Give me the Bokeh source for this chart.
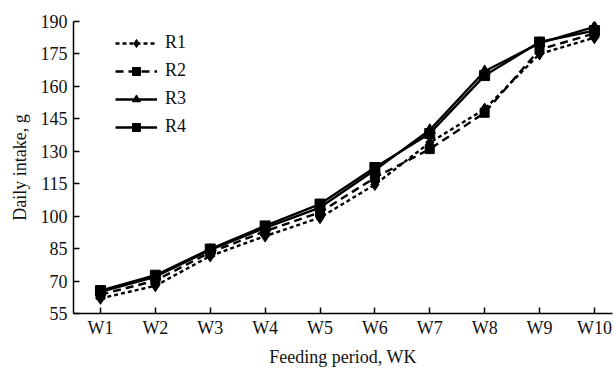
from bokeh.plotting import figure
from bokeh.models import Range1d, Legend, LegendItem, FixedTicker
from bokeh.embed import file_html
from bokeh.resources import INLINE

weeks = ["W1", "W2", "W3", "W4", "W5", "W6", "W7", "W8", "W9", "W10"]
x_pos = [1, 2, 3, 4, 5, 6, 7, 8, 9, 10]
r1 = [62.0, 67.8, 81.6, 90.8, 99.3, 114.6, 134.0, 149.5, 175.0, 182.5]
r2 = [63.7, 70.2, 83.3, 93.0, 101.8, 117.8, 131.0, 147.8, 177.0, 184.5]
r3 = [65.0, 72.0, 84.4, 94.6, 104.0, 121.3, 139.8, 167.0, 180.0, 187.5]
r4 = [65.6, 72.7, 84.8, 95.5, 105.6, 122.5, 138.2, 165.0, 180.5, 185.8]
y_ticks = [55, 70, 85, 100, 115, 130, 145, 160, 175, 190]

FONT = "Liberation Serif"

p = figure(width=614, height=369, output_backend="svg", toolbar_location=None,
           x_range=Range1d(0.508, 10.33), y_range=Range1d(55, 190),
           min_border_left=73, min_border_top=21, min_border_right=2,
           min_border_bottom=54)
p.outline_line_color = None
p.grid.visible = False
p.background_fill_color = "white"
p.border_fill_color = "white"

for ax in (p.xaxis[0], p.yaxis[0]):
    ax.axis_line_width = 1.5
    ax.axis_line_color = "black"
    ax.major_tick_line_width = 1.5
    ax.major_tick_in = 6
    ax.major_tick_out = 0
    ax.minor_tick_line_color = None
    ax.major_label_text_font = FONT
    ax.major_label_text_font_size = "18px"
    ax.major_label_text_color = "#111111"
    ax.axis_label_text_font = FONT
    ax.axis_label_text_font_size = "18px"
    ax.axis_label_text_font_style = "normal"
    ax.axis_label_text_color = "#111111"

p.xaxis.ticker = FixedTicker(ticks=x_pos)
p.xaxis.major_label_overrides = {x: w for x, w in zip(x_pos, weeks)}
p.xaxis.axis_label = "Feeding period, WK"
p.xaxis.major_label_standoff = 4
p.xaxis.axis_label_standoff = 6

p.yaxis.ticker = FixedTicker(ticks=y_ticks)
p.yaxis.axis_label = "Daily intake, g"
p.yaxis.major_label_standoff = 6
p.yaxis.axis_label_standoff = 8

lw = 2.4
l1 = p.line(x_pos, r1, line_color="black", line_width=lw, line_dash="4 3")
m1 = p.scatter(x_pos, r1, marker="diamond", size=12, color="black")
l2 = p.line(x_pos, r2, line_color="black", line_width=lw, line_dash="8 5")
m2 = p.scatter(x_pos, r2, marker="square", size=9, color="black")
l3 = p.line(x_pos, r3, line_color="black", line_width=lw)
m3 = p.scatter(x_pos, r3, marker="triangle", size=11, color="black")
l4 = p.line(x_pos, r4, line_color="black", line_width=lw)
m4 = p.scatter(x_pos, r4, marker="square", size=10, color="black")

legend = Legend(items=[
    LegendItem(label="R1", renderers=[l1, m1]),
    LegendItem(label="R2", renderers=[l2, m2]),
    LegendItem(label="R3", renderers=[l3, m3]),
    LegendItem(label="R4", renderers=[l4, m4]),
], location=(42, 176))
legend.glyph_width = 42
legend.glyph_height = 20
legend.label_height = 20
legend.spacing = 7
legend.padding = 0
legend.margin = 0
legend.label_standoff = 8
legend.border_line_color = None
legend.background_fill_alpha = 0
legend.label_text_font = FONT
legend.label_text_font_size = "18px"
legend.label_text_color = "#111111"
p.add_layout(legend)

open("out.html", "w").write(file_html(p, INLINE))
